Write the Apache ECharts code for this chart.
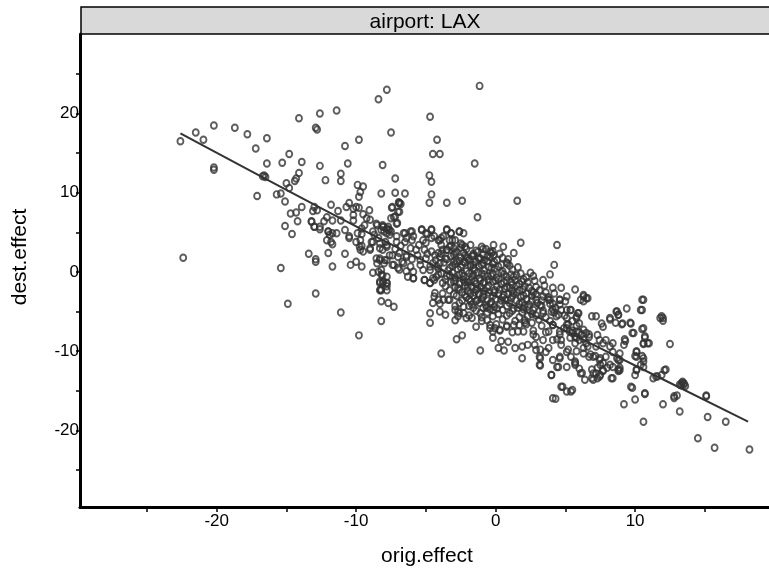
<!DOCTYPE html>
<html>
<head>
<meta charset="utf-8">
<script src="https://cdn.jsdelivr.net/npm/echarts@6/dist/echarts.min.js"></script>
<style>
html,body{margin:0;padding:0;background:#fff;}
#c{width:769px;height:570px;}
</style>
</head>
<body>
<div id="c"></div>
<script>
// ---- data (orig.effect, dest.effect) ----
const ptsUpper = [
[-22.6,16.5],[-21.5,17.6],[-20.95,16.7],[-20.2,18.5],[-20.2,13.2],[-20.2,12.9],[-18.7,18.2],[-17.8,17.4],[-16.4,16.9],[-17.2,15.6],
[-14.1,19.4],[-12.6,20.0],[-11.4,20.4],[-12.9,18.2],[-12.8,18.0],[-10.8,15.9],[-9.8,16.7],[-14.8,14.9],[-16.4,13.7],[-15.3,13.8],
[-13.9,13.9],[-12.6,13.4],[-10.6,13.7],[-16.6,12.2],[-16.5,12.0],[-16.7,12.1],[-14.1,12.5],[-14.3,11.8],[-14.4,11.5],[-15.0,11.2],
[-14.8,10.6],[-12.2,11.6],[-11.1,12.4],[-11.1,11.5],[-9.9,11.0],[-9.5,10.8],[-9.7,10.1],[-9.8,9.5],[-17.1,9.6],[-15.7,9.8],
[-15.4,9.9],[-15.1,8.9],[-13.9,8.2],[-14.7,7.4],[-14.3,7.5],[-14.2,6.4],[-15.1,5.8],[-14.6,4.8],[-13.2,6.4],[-13.0,8.2],
[-12.8,7.8],[-13.1,7.7],[-12.1,6.9],[-12.3,6.4],[-11.8,8.5],[-11.7,6.5],[-11.3,7.7],[-13.0,5.7],[-12.6,5.4],[-12.0,5.1],
[-11.7,4.9],[-12.1,4.0],[-11.7,3.5],[-11.1,6.5],[-10.7,8.2],[-10.5,8.7],[-10.2,8.0],[-10.0,8.2],[-9.8,8.1],[-10.2,7.2],
[-10.2,6.5],[-9.5,7.3],[-10.5,4.3],[-9.6,5.5],[-9.6,4.8],[-9.7,4.0],[-9.6,3.3],[-9.7,2.8],[-13.4,2.3],[-12.9,1.6],
[-12.9,1.3],[-12.0,2.4],[-10.8,2.3],[-11.7,0.7],[-10.4,0.9],[-10.0,1.3],[-9.6,0.7],[-15.4,0.5],[-22.4,1.8],[-12.9,-2.7],
[-14.9,-4.0],[-11.1,-5.1],[-9.8,-8.0],
[-7.8,23.0],[-8.4,21.8],[-1.15,23.5],[-4.7,19.6],[-7.5,17.6],[-4.2,16.7],[-4.5,14.9],[-4.0,14.9],[-8.1,13.5],[-1.5,13.7],
[-7.2,11.8],[-4.75,12.2],[-4.6,11.4],[-8.2,9.9],[-7.2,10.0],[-6.5,9.9],[-4.6,9.8],[-4.75,8.75],[-3.5,8.75],[-2.4,9.0],
[1.55,9.0],[-6.9,8.7],[-6.8,8.6],[-6.95,8.8],[-1.3,6.9],[-7.45,8.1],[-6.9,7.6],[-7.3,6.9],[-7.05,6.2],[-9.05,7.8],
[-9.25,6.8],[-8.5,5.9],[-8.05,5.7],[-7.7,5.3],[1.8,3.7],[4.4,3.4],[4.2,0.9],[0.55,3.2],[1.3,2.4],[0.85,1.05],
[-0.9,2.9],[-0.15,3.4],[-0.4,2.6],[-0.15,2.1]
];
const ptsMid = [
[-6.6,4.9],[-6.1,5.1],[-5.3,5.4],[-4.9,4.8],[-4.6,5.4],[-3.5,5.4],[-3.2,4.9],[-2.6,5.1],[-2.3,4.9],
[-8.8,5.1],[-8.2,5.3],[-7.8,5.5],[-7.6,4.7],[-8.4,4.3],[-7.9,3.8],[-8.9,3.8],[-9.0,3.0],[-8.3,3.0],[-7.8,3.4],[-7.1,3.8],
[-6.4,4.3],[-6.0,4.0],[-5.2,4.0],[-4.6,4.3],[-4.1,4.0],[-3.75,4.5],[-3.3,4.0],[-2.9,4.0],[-2.2,3.2],[-2.4,3.4],
[-1.6,2.1],[-1.2,1.8],[-2.1,1.9],[-3.0,3.0],[-3.5,2.8],[-4.35,2.1],[-5.1,2.8],[-5.7,2.8],[-6.4,2.1],[-7.0,1.9],
[-7.6,2.1],[-8.3,1.7],[-8.5,1.1],[-7.8,1.5],[-7.3,0.9],[-6.7,1.3],[-6.1,0.7],[-5.4,0.9],[-4.7,0.7],[-4.0,1.1],
[-3.0,1.3],[-2.3,1.3],[-1.8,0.9],
[-8.55,1.7],[-7.96,1.5],[-8.4,0.04],[-8.1,-0.4],[-8.3,-1.2],[-7.8,-1.4],[-8.2,-2.3],[-13.2,6.35],[-13.0,5.7],[-12.6,5.7],
[-12.0,5.1],[-11.9,4.7],[-11.8,3.8],[-11.4,4.9],[-10.8,5.3],[-10.5,4.5],[-9.9,4.9],[-10.0,3.8],[-9.75,3.2],[-9.5,2.6],
[-9.0,2.8],[-8.8,3.8],[-8.7,4.7],[-9.4,5.9],[-9.0,6.6],[-8.55,6.1],[-8.1,5.7],[-7.8,4.9],[-7.5,5.1],[-7.1,4.5],
[-7.4,8.2],[-6.9,8.7],[-7.0,7.6],[-7.2,7.0],[-7.5,6.8],[-7.1,6.1],[-8.1,5.9],[-7.7,5.7],[-8.0,5.1],[-7.6,5.3],
[-6.5,4.9],[-6.0,5.1],[-6.5,3.8],[-5.9,4.5],[-5.3,5.3],[-4.6,5.3],[-5.0,4.9],[-4.4,4.5],[-3.5,5.3],[-3.2,4.9],
[-2.6,5.1],[-4.0,4.0],[-3.9,4.3],[-3.1,4.0],[-2.5,3.6],[-8.3,3.6],[-8.1,2.8],[-7.8,3.2],[-7.4,2.1],[-6.9,2.4],
[-6.4,1.9],[-7.4,0.9],[-7.0,0.5],[-6.6,1.1],[-5.9,0.04],[-6.3,-0.6],[-5.9,-0.8],[-5.2,0.25],[-5.1,-1.0],[-4.7,-1.4],
[-5.4,1.5],[-5.0,1.7],[-4.6,2.6],[-4.1,2.4],[-3.9,3.4],[-3.8,2.8],[-3.3,3.2],[-8.3,1.5],[-8.0,1.1],[-8.2,0.25],
[-7.8,-0.6],[-8.1,-1.4],[-8.3,-2.3],[-7.8,-2.3]
];
const ptsCore = [
[-3.5,2.8],[-2.8,2.6],[-2.1,2.9],[-1.4,2.7],[-0.7,2.9],[-0.2,2.6],
[-4.0,1.9],[-3.2,2.0],[-2.5,1.8],[-1.7,2.0],[-1.1,1.7],[-0.4,1.9],[0.5,1.8],
[-4.5,1.1],[-3.7,1.2],[-2.9,1.0],[-2.2,1.2],[-1.6,0.9],[-0.9,1.1],[-0.2,1.0],[0.8,1.2],
[-4.7,0.25],[-4.1,0.4],[-3.4,0.2],[-2.7,0.35],[-2.1,0.1],[-1.5,0.3],[-0.8,0.2],[-0.07,0.4],[0.5,0.1],[1.2,0.3],
[-4.25,-0.6],[-3.5,-0.5],[-2.9,-0.7],[-2.3,-0.5],[-1.7,-0.6],[-1.15,-0.8],[-0.55,-0.5],[0.05,-0.7],[0.8,-0.6],[1.5,-0.4],[2.2,-0.7],[2.7,-0.5],
[-3.8,-1.4],[-3.2,-1.3],[-2.6,-1.5],[-2.0,-1.3],[-1.4,-1.5],[-0.9,-1.4],[-0.2,-1.2],[0.4,-1.5],[1.1,-1.3],[1.7,-1.5],[2.3,-1.3],
[-3.3,-2.3],[-2.6,-2.2],[-2.0,-2.4],[-1.4,-2.2],[-0.8,-2.4],[-0.07,-2.3],[0.65,-2.1],[1.2,-2.4],[1.96,-2.2],[2.6,-2.4],[3.15,-2.3],
[-4.4,-3.1],[-2.8,-3.0],[-2.1,-3.2],[-1.6,-3.0],[-0.9,-3.2],[-0.2,-3.0],[0.5,-3.2],[1.2,-3.0],[1.8,-3.2],[2.6,-3.0],[3.4,-3.1],[3.75,-3.2],
[-4.0,-4.0],[-2.6,-3.9],[-1.7,-4.1],[-1.15,-3.9],[-0.4,-4.0],[0.3,-4.1],[1.0,-3.9],[1.7,-4.0],[2.4,-4.1],[3.0,-3.9],[3.9,-4.0],[4.6,-4.1],
[-2.9,-4.8],[-1.4,-4.9],[-0.4,-4.7],[0.5,-4.8],[1.2,-4.9],[2.0,-4.7],[2.7,-4.8],[3.4,-4.9],[4.1,-4.7],[4.7,-4.8],
[-2.7,-5.6],[-1.9,-5.5],[-1.0,-5.7],[-0.2,-5.6],[0.8,-5.5],[1.7,-5.7],[2.3,-5.6],[2.9,-5.5],[3.6,-5.7],[4.35,-5.6],[4.95,-5.5],
[-0.4,-6.7],[0.05,-6.6],[0.8,-6.8],[1.7,-6.7],[2.2,-6.6],[3.3,-6.8],[4.1,-6.7],[5.2,-6.6],[5.8,-6.8],
[-0.2,-7.5],[0.3,-7.4],[1.2,-7.6],[2.0,-7.5],[2.7,-7.4],[3.6,-7.6],[4.6,-7.5],[5.5,-7.4],[6.0,-7.6],
[-3.9,2.3],[-3.0,2.2],[-2.3,2.4],[-1.6,2.3],[-0.9,2.2],[-0.3,2.4],[0.3,2.3],
[-4.3,1.5],[-3.5,1.6],[-2.6,1.4],[-1.9,1.5],[-1.2,1.6],[-0.6,1.4],[0.1,1.5],[0.9,1.6],
[-4.2,0.7],[-3.1,0.8],[-2.5,0.6],[-1.8,0.7],[-1.2,0.8],[-0.5,0.6],[0.2,0.7],[1.0,0.8],[1.6,0.6],
[-3.9,-0.2],[-3.1,-0.1],[-2.6,-0.3],[-1.9,-0.2],[-1.3,-0.1],[-0.8,-0.3],[-0.2,-0.2],[0.4,-0.1],[1.1,-0.3],[1.8,-0.2],[2.5,-0.1],
[-4.4,-1.0],[-3.6,-0.9],[-2.9,-1.1],[-2.3,-1.0],[-1.7,-0.9],[-1.1,-1.1],[-0.5,-1.0],[0.2,-0.9],[0.8,-1.1],[1.4,-1.0],[2.0,-0.9],[2.8,-1.1],[3.4,-1.0],
[-3.6,-1.8],[-2.9,-1.9],[-2.2,-1.7],[-1.7,-1.8],[-1.1,-1.9],[-0.5,-1.7],[0.1,-1.8],[0.8,-1.9],[1.5,-1.7],[2.1,-1.8],[2.9,-1.9],[3.5,-1.7],
[-3.8,-2.7],[-3.0,-2.8],[-2.4,-2.6],[-1.8,-2.7],[-1.2,-2.8],[-0.5,-2.6],[0.2,-2.7],[0.9,-2.8],[1.5,-2.6],[2.2,-2.7],[2.9,-2.8],[3.6,-2.6],[4.2,-2.7],
[-3.4,-3.5],[-2.4,-3.6],[-1.9,-3.4],[-1.3,-3.5],[-0.6,-3.6],[0.0,-3.4],[0.7,-3.5],[1.5,-3.6],[2.2,-3.4],[2.9,-3.5],[3.3,-3.6],
[-2.3,-4.4],[-1.9,-4.3],[-0.9,-4.5],[-0.1,-4.4],[0.8,-4.3],[1.6,-4.5],[2.3,-4.4],[3.3,-4.3],[4.3,-4.5],
[-2.3,-5.2],[-0.6,-5.1],[0.2,-5.3],[1.0,-5.2],[1.9,-5.1],[2.6,-5.3],[3.4,-5.2],[4.2,-5.1],
[-0.6,-6.1],[0.5,-6.0],[1.4,-6.2],[2.1,-6.1],[3.1,-6.0],[3.9,-6.2]
];
const ptsDense = [
[-3.2,3.3],[-2.5,3.1],[-1.8,3.4],[-1.0,3.2],[-2.9,2.4],[-2.2,2.1],[-1.3,2.5],[-0.6,2.0],
[-3.6,1.7],[-2.8,1.4],[-2.0,1.7],[-1.4,1.3],[-0.8,1.5],[-0.1,1.3],[-3.3,0.5],[-2.4,0.9],
[-1.6,0.5],[-1.0,0.9],[-0.3,0.5],[0.4,0.9],[-3.3,-0.4],[-2.4,-0.2],[-1.6,-0.4],[-1.0,-0.2],
[-0.3,-0.5],[0.6,-0.3],[1.3,-0.6],[-3.0,-1.2],[-2.2,-1.3],[-1.5,-1.1],[-0.8,-1.3],[0.0,-1.1],
[0.6,-1.3],[1.2,-1.6],[1.9,-1.2],[-2.7,-2.0],[-2.0,-1.9],[-1.3,-2.1],[-0.6,-2.0],[0.3,-2.2],
[1.0,-2.0],[1.7,-2.3],[2.4,-2.0],[-2.2,-2.9],[-1.5,-2.6],[-0.9,-2.9],[-0.1,-2.6],[0.6,-2.9],
[1.3,-2.7],[2.0,-3.0],[2.7,-2.6],[-1.8,-3.7],[-1.0,-3.4],[-0.3,-3.8],[0.4,-3.6],[1.1,-3.3],
[1.9,-3.8],[2.6,-3.6],[3.2,-4.2],[-0.7,-4.2],[0.1,-4.6],[1.3,-4.6],[2.1,-4.2],[2.8,-4.5],
[-5.5,3.4],[-6.1,3.0],[-5.0,3.7],[-6.8,3.3],[-7.2,2.9],[-5.6,2.1],[-4.9,2.3],[-6.0,1.6]
];
const ptsLower = [
[-8.8,-0.1],[-8.2,-0.3],[-8.3,-1.4],[-8.05,-1.2],[-7.8,-1.4],[-8.25,-2.2],[-7.8,-1.8],[-8.2,-3.7],[-7.7,-3.9],[-7.3,-4.4],
[-8.2,-6.2],[-6.9,0.3],[-6.4,0.1],[-5.9,-0.8],[-5.1,-1.0],[-4.7,-1.4],[-4.5,-0.8],[-4.1,-0.3],[-4.35,-2.65],[-4.1,-3.5],
[-3.75,-3.5],[-3.3,-3.5],[-4.5,-3.9],[-4.7,-5.2],[-4.7,-6.4],[-4.0,-5.0],[-3.6,-5.4],[-3.9,-10.3],[-2.9,-4.3],[-2.7,-5.0],
[-2.6,-5.2],[-2.9,-6.1],[-2.8,-8.5],[-2.4,-8.0],[-2.1,-5.8],[-1.7,-5.8],[-1.4,-6.9],[-1.0,-6.2],[-1.1,-5.2],[-1.1,-9.9],
[-1.6,-4.5],[-1.4,-3.7],[-0.65,-4.5],[-0.15,-4.8],[-0.4,-7.1],[-0.05,-7.1],[0.3,-7.3],[-0.2,-8.3],[0.2,-9.6],[0.6,-9.9],
[0.4,-8.7],[0.9,-8.8],[1.4,-9.6],[1.9,-9.4],[2.3,-9.2],[1.9,-10.9],[0.8,-6.9],[1.3,-6.7],[1.6,-7.5],[2.1,-6.4],
[2.6,-6.4],[2.7,-7.9],[2.8,-9.2],[3.2,-9.8],[3.2,-10.9],[3.2,-11.8],[3.8,-9.6],[4.0,-13.0],[4.4,-12.0],[4.6,-10.9],
[4.8,-14.5],[4.3,-16.0],[3.9,-0.3],[4.1,-2.0],[4.7,-2.0],[3.8,-3.5],[4.6,-3.5],[4.0,-5.0],[4.5,-5.4],[4.1,-6.7],
[3.8,-7.5],[4.6,-7.9],[4.7,-9.2],[4.4,-8.5]
];
const ptsRight = [
[5.7,-2.2],[3.9,-3.5],[4.1,-4.0],[4.6,-3.5],[5.1,-4.8],[5.4,-4.8],[6.3,-3.1],[6.6,-3.3],[6.1,-3.5],[5.1,-5.8],
[5.8,-5.6],[5.9,-5.2],[6.0,-6.5],[6.3,-7.3],[6.7,-8.2],[6.5,-7.7],[6.9,-5.6],[7.2,-5.6],[7.6,-6.5],[7.7,-6.9],
[8.2,-5.8],[8.65,-5.0],[8.8,-5.4],[9.4,-4.6],[9.1,-6.5],[9.7,-6.5],[10.6,-3.5],[10.5,-4.8],[10.6,-7.1],[9.8,-7.7],
[9.25,-8.5],[10.7,-8.1],[10.6,-9.0],[10.9,-9.0],[12.0,-5.8],[11.9,-5.6],[12.5,-9.1],[7.3,-7.95],[7.45,-8.6],[7.7,-9.0],
[7.9,-8.6],[8.2,-9.4],[8.4,-9.0],[7.2,-9.4],[7.0,-10.7],[7.45,-11.1],[7.9,-10.7],[8.4,-10.1],[8.9,-10.3],[8.8,-11.1],
[8.4,-12.0],[8.9,-12.4],[7.7,-12.4],[7.2,-12.8],[7.0,-13.6],[7.45,-13.2],[8.4,-13.4],[10.1,-10.1],[10.1,-10.7],[10.6,-10.9],
[10.1,-12.4],[10.6,-12.0],[9.7,-14.5],[10.7,-15.3],[11.5,-13.2],[12.1,-12.4],[12.8,-15.7],[13.5,-14.05],[13.4,-13.85],[13.3,-14.3],
[15.1,-15.7],[2.9,-9.85],[3.6,-10.1],[4.1,-11.1],[4.6,-10.7],[5.1,-10.1],[5.4,-10.7],[5.1,-12.0],[5.7,-11.5],[6.0,-12.2],
[6.3,-10.3],[6.7,-10.7],[6.6,-9.4],[6.0,-8.6],[5.7,-8.2],[5.3,-7.5],[4.7,-8.6],[4.1,-8.6],[3.4,-8.6],[2.9,-8.2],
[3.15,-10.7],[3.15,-11.7],[4.0,-13.0],[4.5,-12.0],[4.7,-14.5],[5.1,-15.1],[5.4,-15.1],[5.5,-14.9],[6.1,-12.8],[6.4,-13.6],
[7.0,-12.8],[4.1,-15.95]
];
const ptsFar = [
[5.1,-3.1],[5.0,-3.7],[5.35,-4.8],[5.95,-5.2],[5.8,-5.8],[5.5,-6.2],[5.1,-6.65],[4.9,-7.1],[6.3,-2.9],[6.5,-3.3],
[6.3,-3.7],[5.1,-7.1],[5.5,-7.7],[5.8,-7.5],[6.2,-7.9],[5.35,-8.3],[5.8,-8.3],[6.3,-8.5],[6.7,-7.9],[5.7,-9.0],
[5.2,-9.8],[5.8,-10.0],[6.3,-9.6],[6.5,-9.0],[6.8,-10.4],[7.15,-10.6],[7.5,-10.9],[5.7,-11.3],[5.7,-11.7],[6.2,-12.75],
[6.9,-12.3],[7.3,-12.1],[7.5,-11.7],[7.7,-11.5],[6.9,-13.4],[7.3,-13.4],[7.5,-13.0],[7.7,-12.5],[8.0,-12.1],[8.2,-11.7],
[8.3,-13.4],[8.8,-12.3],[8.9,-11.1],[8.7,-10.9],[8.7,-5.0],[8.8,-5.4],[8.2,-6.0],[8.6,-6.4],[9.05,-6.6],[9.65,-6.4],
[9.9,-7.7],[9.3,-8.7],[9.2,-9.2],[10.5,-3.5],[10.4,-4.8],[10.5,-7.2],[10.7,-8.3],[11.0,-9.0],[10.6,-9.1],[10.1,-10.0],
[10.0,-10.6],[10.5,-10.6],[10.6,-11.3],[10.4,-11.7],[10.1,-12.3],[10.0,-13.0],[8.9,-12.1],[8.8,-12.5],[9.8,-14.6],[10.7,-15.4],
[10.0,-16.1],[9.2,-16.7],[10.6,-18.9],[11.8,-5.8],[12.0,-6.15],[11.3,-13.4],[11.6,-13.2],[11.9,-13.0],[12.2,-12.3],[12.0,-16.7],
[12.8,-15.9],[13.0,-15.6],[13.2,-17.6],[13.35,-14.0],[13.5,-14.2],[13.6,-14.4],[13.2,-14.2],[15.1,-15.6],[15.2,-18.3],[16.5,-18.9],
[14.5,-21.0],[15.7,-22.2],[18.2,-22.4]
];
// smooth fit line
const fitX = [-22.6, -9.5, 6.8, 18.1];
const fitY = [17.5, 5.3, -9.0, -18.9];
// ticks
const xTickValues = [-25, -20, -15, -10, -5, 0, 5, 10, 15];
const xLabelValues = [-20, -10, 0, 10];
const yTickValues = [-25, -20, -15, -10, -5, 0, 5, 10, 15, 20, 25];
const yLabelValues = [-20, -10, 0, 10, 20];
const stripLabel = 'airport: LAX';
const xTitle = 'orig.effect';
const yTitle = 'dest.effect';

const points = [].concat(ptsUpper, ptsMid, ptsCore, ptsDense, ptsLower, ptsRight, ptsFar);
const fitLine = fitX.map((x, i) => [x, fitY[i]]);

const FONT = '"Liberation Sans", Arial, sans-serif';
const chart = echarts.init(document.getElementById('c'), null, {renderer: 'canvas'});
chart.setOption({
  animation: false,
  backgroundColor: '#ffffff',
  grid: {left: 80, top: 34, right: 0, bottom: 63, containLabel: false},
  xAxis: {
    type: 'value', min: -29.8, max: 19.6,
    axisLine: {show: true, onZero: false, lineStyle: {color: '#000', width: 3}},
    axisTick: {show: true, customValues: xTickValues, length: 5, lineStyle: {color: '#000', width: 1.5}},
    axisLabel: {customValues: xLabelValues, margin: 6, fontSize: 17, color: '#000', fontFamily: FONT},
    splitLine: {show: false}
  },
  yAxis: {
    type: 'value', min: -29.67, max: 30.05,
    axisLine: {show: true, onZero: false, lineStyle: {color: '#000', width: 3}},
    axisTick: {show: true, customValues: yTickValues, length: 4, lineStyle: {color: '#000', width: 1.5}},
    axisLabel: {customValues: yLabelValues, margin: 1, fontSize: 17, color: '#000', fontFamily: FONT},
    splitLine: {show: false}
  },
  graphic: [
    {type: 'rect', z: 100, shape: {x: 81, y: 7, width: 700, height: 27},
     style: {fill: '#d9d9d9', stroke: '#000', lineWidth: 1.5}},
    {type: 'text', z: 101, x: 425, y: 22,
     style: {text: stripLabel, fill: '#000', font: '21px ' + FONT, textAlign: 'center', textVerticalAlign: 'middle'}},
    {type: 'text', z: 101, x: 427, y: 556,
     style: {text: xTitle, fill: '#000', font: '21px ' + FONT, textAlign: 'center', textVerticalAlign: 'middle'}},
    {type: 'text', z: 101, x: 20, y: 257, rotation: Math.PI / 2,
     style: {text: yTitle, fill: '#000', font: '21px ' + FONT, textAlign: 'center', textVerticalAlign: 'middle'}}
  ],
  series: [
    {type: 'scatter', data: points, symbol: 'circle', symbolSize: [6, 6.5],
     itemStyle: {color: 'rgba(0,0,0,0)', borderColor: '#333', borderWidth: 1.9}, silent: true},
    {type: 'line', data: fitLine, showSymbol: false, smooth: 0.3,
     lineStyle: {color: '#333', width: 2}, silent: true}
  ]
});
</script>
</body>
</html>
